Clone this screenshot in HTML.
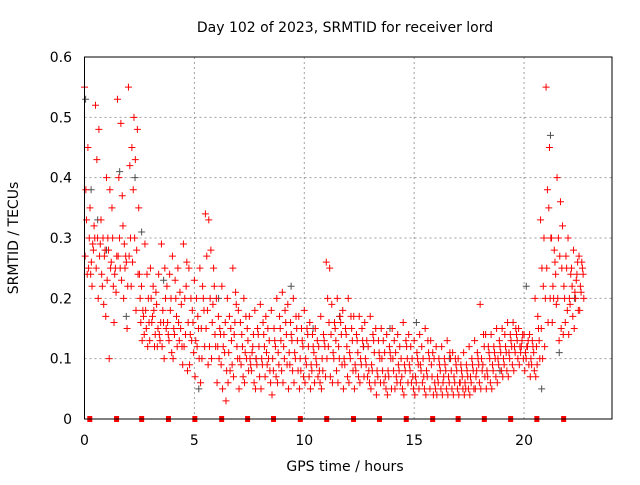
<!DOCTYPE html>
<html><head><meta charset="utf-8"><style>
body{margin:0;background:#fff}
svg text{font-family:"DejaVu Sans","Liberation Sans",sans-serif;font-size:14px;fill:#000}
</style></head><body>
<svg id="chart" width="640" height="480">
<text x="345" y="32" text-anchor="middle">Day 102 of 2023, SRMTID for receiver lord</text>
<text x="345" y="471" text-anchor="middle">GPS time / hours</text>
<text transform="translate(18,238) rotate(-90)" text-anchor="middle">SRMTID / TECUs</text>
<g id="grid"></g><g id="gray"></g><g id="red"></g><g id="sq"></g><g id="axes"></g>
</svg>
<script>
const xTicks=[0,5,10,15,20];
const yTicks=[0,0.1,0.2,0.3,0.4,0.5,0.6];
const yTickLabels=["0","0.1","0.2","0.3","0.4","0.5","0.6"];
const binStart=0, binWidth=0.25;
const redBins=[
[0.55,0.45,0.38,0.3,0.27,0.25,0.33,0.24],[0.35,0.28,0.26,0.3,0.24,0.32,0.22,0.29],[0.52,0.48,0.43,0.29,0.25,0.27,0.3,0.2],[0.33,0.27,0.22,0.17,0.24,0.28,0.3,0.19],
[0.4,0.38,0.3,0.26,0.23,0.25,0.28,0.1],[0.35,0.25,0.22,0.27,0.3,0.21,0.16,0.24],[0.53,0.49,0.4,0.37,0.27,0.23,0.3,0.25],[0.32,0.26,0.29,0.22,0.2,0.15,0.25,0.27],
[0.55,0.45,0.42,0.38,0.27,0.26,0.3,0.22],[0.5,0.48,0.43,0.35,0.3,0.24,0.18,0.28],[0.24,0.18,0.16,0.14,0.2,0.17,0.22,0.13],[0.29,0.2,0.15,0.13,0.18,0.16,0.24,0.12],
[0.25,0.18,0.16,0.14,0.2,0.12,0.17,0.22],[0.21,0.14,0.12,0.16,0.19,0.13,0.15,0.24],[0.29,0.25,0.18,0.15,0.12,0.2,0.16,0.1],[0.22,0.18,0.14,0.11,0.16,0.2,0.13,0.24],
[0.27,0.2,0.15,0.12,0.1,0.17,0.14,0.23],[0.25,0.19,0.13,0.09,0.16,0.12,0.21,0.15],[0.29,0.26,0.2,0.16,0.12,0.08,0.14,0.22],[0.25,0.18,0.14,0.11,0.09,0.16,0.2,0.13],
[0.23,0.17,0.13,0.1,0.07,0.15,0.2,0.12],[0.25,0.2,0.15,0.12,0.06,0.18,0.1,0.22],[0.34,0.33,0.27,0.2,0.15,0.12,0.18,0.09],[0.28,0.22,0.16,0.12,0.1,0.14,0.19,0.25],
[0.2,0.15,0.12,0.09,0.06,0.14,0.17,0.1],[0.22,0.16,0.12,0.08,0.05,0.03,0.14,0.11],[0.2,0.15,0.11,0.09,0.06,0.13,0.17,0.08],[0.25,0.19,0.14,0.1,0.07,0.12,0.16,0.21],
[0.18,0.14,0.1,0.07,0.05,0.12,0.16,0.09],[0.2,0.15,0.11,0.08,0.06,0.13,0.17,0.1],[0.17,0.12,0.09,0.06,0.1,0.14,0.08,0.11],[0.18,0.14,0.1,0.07,0.05,0.12,0.09,0.15],
[0.19,0.14,0.1,0.07,0.05,0.12,0.09,0.16],[0.17,0.13,0.09,0.06,0.11,0.08,0.15,0.1],[0.18,0.13,0.1,0.07,0.04,0.12,0.08,0.15],[0.2,0.15,0.11,0.08,0.06,0.13,0.09,0.17],
[0.21,0.16,0.12,0.09,0.06,0.14,0.1,0.18],[0.19,0.14,0.11,0.08,0.05,0.13,0.09,0.16],[0.2,0.15,0.11,0.08,0.06,0.13,0.1,0.17],[0.17,0.13,0.1,0.07,0.05,0.12,0.08,0.15],
[0.18,0.14,0.1,0.07,0.06,0.12,0.09,0.15],[0.16,0.12,0.09,0.06,0.05,0.11,0.08,0.14],[0.15,0.12,0.09,0.06,0.1,0.08,0.13,0.07],[0.17,0.13,0.1,0.07,0.05,0.12,0.08,0.14],
[0.26,0.25,0.2,0.14,0.1,0.07,0.12,0.16],[0.19,0.15,0.11,0.08,0.06,0.13,0.1,0.16],[0.2,0.16,0.12,0.09,0.06,0.14,0.1,0.17],[0.18,0.14,0.1,0.07,0.05,0.12,0.09,0.15],
[0.2,0.15,0.11,0.08,0.06,0.13,0.1,0.17],[0.17,0.13,0.09,0.07,0.05,0.11,0.08,0.14],[0.17,0.13,0.1,0.07,0.06,0.12,0.09,0.15],[0.16,0.12,0.09,0.06,0.1,0.08,0.13,0.07],
[0.17,0.13,0.09,0.06,0.05,0.11,0.08,0.14],[0.15,0.11,0.08,0.06,0.04,0.1,0.07,0.13],[0.15,0.11,0.08,0.05,0.1,0.07,0.13,0.06],[0.14,0.11,0.08,0.05,0.04,0.1,0.07,0.12],
[0.15,0.11,0.08,0.06,0.1,0.07,0.13,0.05],[0.14,0.1,0.08,0.05,0.09,0.07,0.12,0.06],[0.16,0.12,0.09,0.06,0.04,0.1,0.08,0.13],[0.14,0.1,0.08,0.05,0.09,0.07,0.12,0.06],
[0.13,0.1,0.07,0.05,0.04,0.09,0.06,0.11],[0.14,0.1,0.08,0.05,0.09,0.07,0.12,0.06],[0.15,0.11,0.08,0.05,0.04,0.1,0.07,0.13],[0.13,0.1,0.07,0.05,0.09,0.06,0.11,0.04],
[0.12,0.09,0.07,0.05,0.04,0.08,0.06,0.1],[0.12,0.09,0.06,0.05,0.04,0.08,0.07,0.1],[0.13,0.1,0.07,0.05,0.04,0.08,0.06,0.11],[0.11,0.09,0.07,0.05,0.04,0.08,0.06,0.1],
[0.1,0.08,0.06,0.05,0.04,0.07,0.06,0.09],[0.11,0.08,0.06,0.05,0.04,0.07,0.05,0.09],[0.12,0.09,0.07,0.05,0.04,0.08,0.06,0.1],[0.13,0.1,0.07,0.06,0.05,0.09,0.08,0.11],
[0.19,0.14,0.1,0.07,0.05,0.12,0.08,0.09],[0.14,0.11,0.08,0.06,0.05,0.1,0.07,0.12],[0.14,0.11,0.09,0.07,0.05,0.1,0.08,0.12],[0.15,0.12,0.1,0.08,0.06,0.11,0.09,0.13],
[0.15,0.12,0.1,0.08,0.07,0.11,0.09,0.14],[0.16,0.13,0.11,0.09,0.07,0.12,0.1,0.14],[0.16,0.14,0.12,0.1,0.08,0.13,0.11,0.15],[0.15,0.13,0.12,0.1,0.09,0.14,0.11,0.12],
[0.14,0.12,0.11,0.09,0.08,0.13,0.1,0.12],[0.14,0.12,0.1,0.08,0.07,0.11,0.09,0.13],[0.2,0.15,0.12,0.1,0.07,0.13,0.09,0.17],[0.33,0.3,0.25,0.2,0.15,0.12,0.1,0.22],
[0.55,0.45,0.38,0.3,0.25,0.2,0.16,0.35],[0.3,0.26,0.22,0.19,0.16,0.24,0.2,0.28],[0.4,0.36,0.3,0.25,0.2,0.15,0.13,0.27],[0.32,0.27,0.22,0.18,0.14,0.25,0.2,0.16],
[0.3,0.25,0.2,0.17,0.14,0.22,0.19,0.24],[0.28,0.24,0.21,0.18,0.15,0.26,0.2,0.23],[0.27,0.25,0.22,0.2,0.18,0.24,0.21,0.26]
];
const grayT=[0.05,0.3,0.6,1.0,1.6,1.9,2.3,2.6,3.6,5.2,6.1,7.8,9.4,10.4,11.6,12.7,13.9,15.1,16.6,18.9,20.1,20.8,21.2,21.6,22.3];
const grayV=[0.53,0.38,0.33,0.28,0.41,0.17,0.4,0.31,0.23,0.05,0.2,0.1,0.22,0.15,0.17,0.12,0.15,0.16,0.1,0.08,0.22,0.05,0.47,0.11,0.2];
const squareT=[0.24,1.46,2.6,3.82,5.02,6.24,7.42,8.6,9.82,11.02,12.24,13.42,14.64,15.84,17.0,18.19,19.39,20.58,21.8];

const X0=84.5,X1=612,Y0=419,Y1=57,XMAX=24,YMAX=0.6;
const sx=t=>X0+(X1-X0)*t/XMAX, sy=v=>Y0-(Y0-Y1)*v/YMAX;
const slot=[0,5,2,7,1,6,3,4];
const NS="http://www.w3.org/2000/svg";
function mk(tag,attrs,parent){const e=document.createElementNS(NS,tag);for(const k in attrs)e.setAttribute(k,attrs[k]);document.getElementById(parent).appendChild(e);return e;}
xTicks.forEach(t=>{
 if(t>0){const g=mk('line',{x1:sx(t),x2:sx(t),y1:Y0,y2:Y1,stroke:'#a0a0a0','stroke-dasharray':'2,3'},'grid');
 
 }
 const l=mk('text',{x:sx(t),y:445,'text-anchor':'middle'},'axes');l.textContent=t;
 
 
});
yTicks.forEach((v,i)=>{
 if(v>0&&v<YMAX){const g=mk('line',{x1:X0,x2:X1,y1:sy(v),y2:sy(v),stroke:'#a0a0a0','stroke-dasharray':'2,3'},'grid');
 
 }
 const l=mk('text',{x:72,y:sy(v)+5,'text-anchor':'end'},'axes');l.textContent=yTickLabels[i];
 
 
});
const fr=mk('rect',{x:X0,y:Y1,width:X1-X0,height:Y0-Y1,fill:'none',stroke:'#000'},'axes');


function plus(t,v){const x=sx(t),y=sy(v);return `M${x-3.5},${y}h7M${x},${y-3.5}v7`;}
let gd='';grayT.forEach((t,i)=>gd+=plus(t,grayV[i]));
const gp=mk('path',{d:gd,stroke:'#505050','stroke-width':1,fill:'none'},'gray');


let rd='';redBins.forEach((b,i)=>b.forEach((v,j)=>rd+=plus(binStart+i*binWidth+slot[j]*0.031,v)));
const rp=mk('path',{d:rd,stroke:'#ff0000','stroke-width':1,fill:'none'},'red');


squareT.forEach(t=>{const s=mk('rect',{x:sx(t)-2.5,y:Y0-3,width:5,height:6,fill:'#ff0000'},'sq');
 
 });
</script>
</body></html>
